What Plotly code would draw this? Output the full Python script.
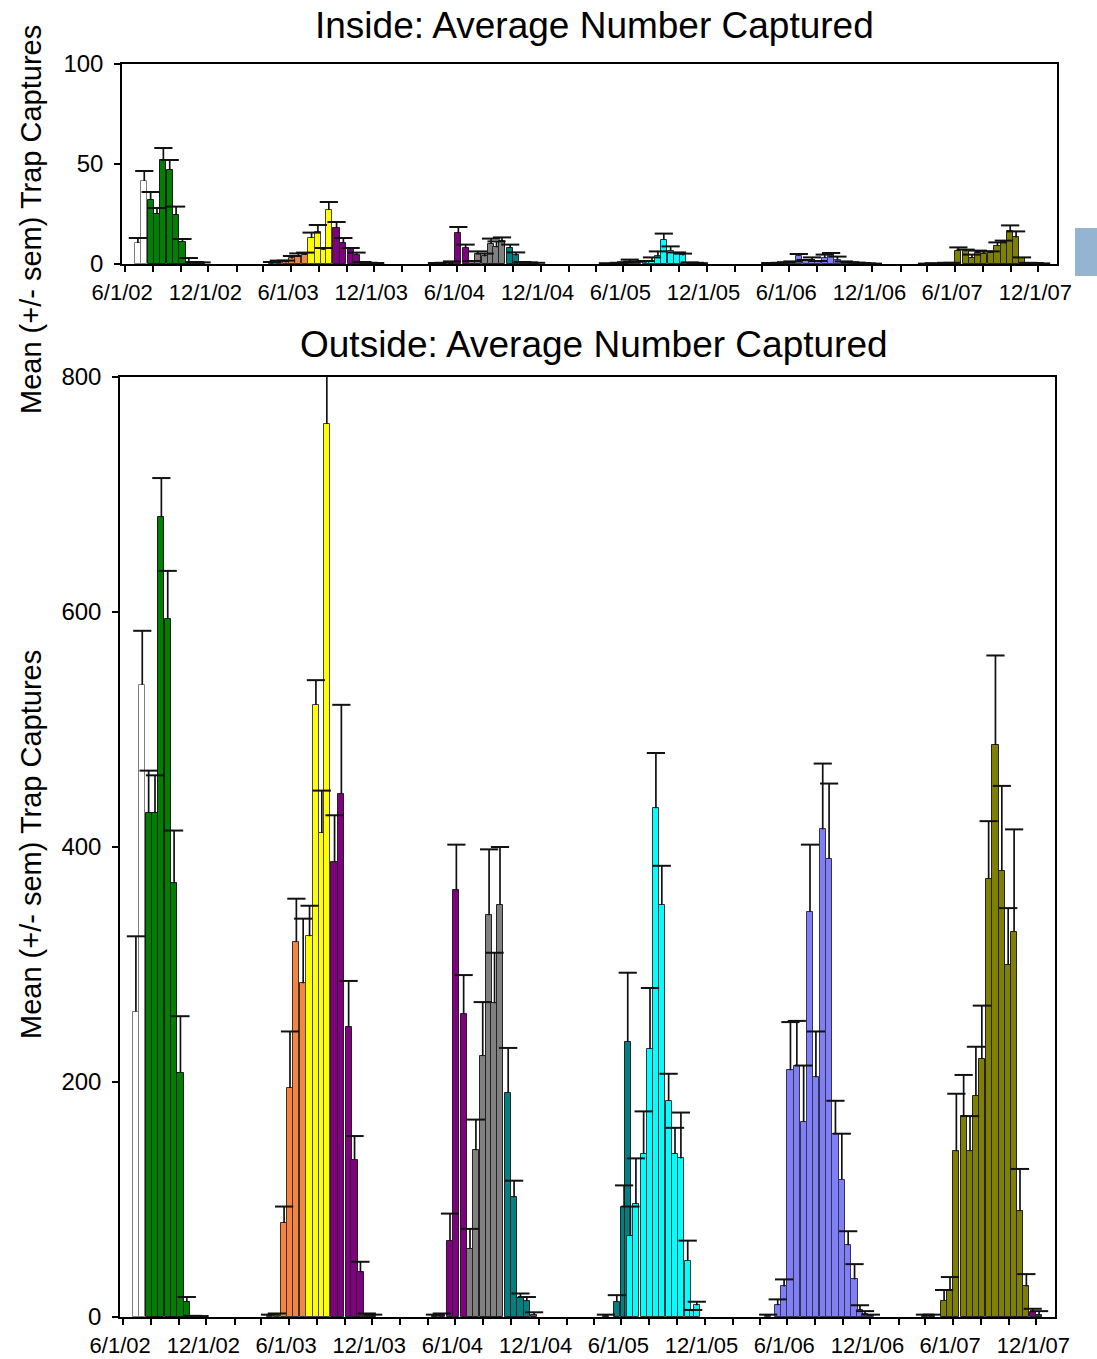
import plotly.graph_objects as go

# ---------------------------------------------------------------
# Trap check dates for each colour group (lure / period)
# ---------------------------------------------------------------
white_dates = ["2002-06-29", "2002-07-13"]
green_dates = ["2002-07-27", "2002-08-10", "2002-08-24", "2002-09-07", "2002-09-21",
               "2002-10-05", "2002-10-19", "2002-11-02", "2002-11-16"]
orange_dates = ["2003-04-20", "2003-05-05", "2003-05-21", "2003-06-03", "2003-06-17", "2003-07-02"]
yellow_dates = ["2003-07-16", "2003-07-30", "2003-08-12", "2003-08-23"]
purple_dates = ["2003-09-09", "2003-09-24", "2003-10-10", "2003-10-23", "2003-11-05",
                "2003-11-19", "2003-12-03",
                "2004-04-17", "2004-05-02", "2004-05-20", "2004-06-03", "2004-06-19",
                "2007-11-23", "2007-12-07"]
gray_dates = ["2004-07-03", "2004-07-16", "2004-07-31", "2004-08-14", "2004-08-26", "2004-09-07"]
teal_dates = ["2004-09-25", "2004-10-08", "2004-10-22", "2004-11-05", "2004-11-21",
              "2005-04-28", "2005-05-22", "2005-06-07", "2005-06-15"]
cyan_dates = ["2005-06-21", "2005-07-03", "2005-07-20", "2005-08-03", "2005-08-16", "2005-08-29",
              "2005-09-13", "2005-09-27", "2005-10-10", "2005-10-25", "2005-11-06", "2005-11-14"]
blue_dates = ["2006-04-20", "2006-05-11", "2006-05-25", "2006-06-08", "2006-06-22", "2006-07-07",
              "2006-07-21", "2006-08-03", "2006-08-18", "2006-09-01", "2006-09-15", "2006-09-29",
              "2006-10-13", "2006-10-27", "2006-11-08", "2006-11-19", "2006-12-02"]
olive_dates = ["2007-03-31", "2007-04-15", "2007-05-12", "2007-05-25", "2007-06-08", "2007-06-24",
               "2007-07-08", "2007-07-21", "2007-08-03", "2007-08-18", "2007-09-02", "2007-09-16",
               "2007-09-30", "2007-10-13", "2007-10-26", "2007-11-09"]

# ---------------------------------------------------------------
# Outside traps: mean captures and s.e.m.
# ---------------------------------------------------------------
white_out = [260, 538]
white_out_sem = [64, 46]
green_out = [429, 429, 681, 594, 369, 208, 13, 0.5, 0.3]
green_out_sem = [36, 32, 33, 41, 45, 48, 4, 0.5, 0.5]
orange_out = [1, 2, 80, 195, 319, 284]
orange_out_sem = [1, 1, 14, 48, 37, 55]
yellow_out = [324, 521, 412, 760]
yellow_out_sem = [26, 21, 36, 80]
purple_out = [387, 445, 247, 134, 38, 2, 1, 1, 2, 65, 363, 258, 4, 2]
purple_out_sem = [40, 76, 39, 20, 9, 1, 1, 1, 1, 23, 39, 33, 3, 3]
gray_out = [58, 142, 222, 342, 267, 351]
gray_out_sem = [17, 26, 46, 56, 43, 49]
teal_out = [191, 102, 16.5, 14, 2, 1, 13, 94, 234]
teal_out_sem = [38, 14, 3.5, 3, 2, 1, 5.6, 18, 59]
cyan_out = [69, 96, 139, 228, 433, 351, 184, 139, 135, 48, 5, 10]
cyan_out_sem = [25, 39, 36, 52, 47, 33, 23, 22, 39, 17, 1, 3]
blue_out = [1, 10, 26, 210, 214, 166, 345, 204, 415, 390, 156, 117, 61, 32, 6, 2.5, 1]
blue_out_sem = [1, 5, 6, 41, 38, 48, 57, 39, 56, 64, 28, 39, 12, 13, 4, 2.5, 1]
olive_out = [1, 1, 14, 23, 141, 171, 141, 188, 220, 373, 487, 380, 300, 328, 90, 26]
olive_out_sem = [1, 1, 9, 11, 49, 35, 30, 42, 45, 49, 76, 72, 48, 87, 36, 10.5]

# ---------------------------------------------------------------
# Inside traps: mean captures and s.e.m.
# ---------------------------------------------------------------
white_in = [10.5, 41.5]
white_in_sem = [2.5, 5]
green_in = [32, 25, 52, 47, 24.5, 11, 1, 0.5, 0.3]
green_in_sem = [4, 3, 6, 5, 4.2, 1.5, 2, 0.5, 0.5]
orange_in = [0.3, 0.5, 0.8, 2.8, 4, 4.5]
orange_in_sem = [0.7, 1.2, 0.9, 1.2, 1.3, 1.2]
yellow_in = [13, 16, 7, 27]
yellow_in_sem = [2.7, 3.5, 1, 4]
purple_in = [18, 10.3, 7.3, 4.5, 0.5, 0.3, 0.2, 0.2, 0.3, 0.8, 15.5, 8, 0.2, 0.1]
purple_in_sem = [3, 2.7, 0.7, 1.2, 0.5, 0.3, 0.3, 0.3, 0.3, 0.5, 3, 1.7, 0.3, 0.2]
gray_in = [1, 5, 3.8, 10, 8.3, 11.3]
gray_in_sem = [0.5, 1.3, 1.4, 2.7, 3, 2]
teal_in = [8, 4.3, 0.5, 0.4, 0.3, 0.2, 0.3, 0.5, 0.6]
teal_in_sem = [1.7, 1.5, 0.5, 0.4, 0.3, 0.2, 0.3, 0.4, 1.6]
cyan_in = [0.5, 0.7, 0.8, 1.7, 3.8, 12.2, 6.7, 5.5, 4.3, 0.5, 0.3, 0.2]
cyan_in_sem = [0.7, 0.5, 0.7, 1.6, 2.5, 3, 2.1, 0.3, 0.9, 0.3, 0.3, 0.2]
blue_in = [0.3, 0.3, 0.5, 0.8, 4.2, 1.5, 2.2, 1, 3, 4.7, 2.2, 0.8, 0.5, 0.4, 0.2, 0.1, 0.1]
blue_in_sem = [0.2, 0.3, 0.4, 0.5, 0.8, 0.5, 1.1, 0.5, 1.7, 0.8, 1.5, 0.5, 0.4, 0.3, 0.3, 0.2, 0.1]
olive_in = [0.1, 0.2, 0.3, 0.3, 6.7, 6.3, 3, 5.5, 5, 5.5, 9.2, 10.8, 16.7, 13.3, 3, 0.3]
olive_in_sem = [0.1, 0.2, 0.3, 0.3, 1.6, 0.9, 1.7, 1.2, 1.3, 0.8, 1.6, 0.9, 2.6, 3, 0.3, 0.3]

# Axis labelling
x_range = ["2002-05-25", "2008-01-11"]
inside_ticks = [0, 50, 100]
outside_ticks = [0, 200, 400, 600, 800]
title_inside = "Inside: Average Number Captured"
title_outside = "Outside: Average Number Captured"
y_title = "Mean (+/- sem) Trap Captures"

# colour group: fill, outline, data
groups = [
    ("#FFFFFF", "#808080", white_dates, white_out, white_out_sem, white_in, white_in_sem),
    ("#008000", "#1a1a1a", green_dates, green_out, green_out_sem, green_in, green_in_sem),
    ("#F4843E", "#333333", orange_dates, orange_out, orange_out_sem, orange_in, orange_in_sem),
    ("#FFFF00", "#444444", yellow_dates, yellow_out, yellow_out_sem, yellow_in, yellow_in_sem),
    ("#800080", "#222222", purple_dates, purple_out, purple_out_sem, purple_in, purple_in_sem),
    ("#808080", "#222222", gray_dates, gray_out, gray_out_sem, gray_in, gray_in_sem),
    ("#008080", "#222222", teal_dates, teal_out, teal_out_sem, teal_in, teal_in_sem),
    ("#00FFFF", "#333333", cyan_dates, cyan_out, cyan_out_sem, cyan_in, cyan_in_sem),
    ("#8080F4", "#333355", blue_dates, blue_out, blue_out_sem, blue_in, blue_in_sem),
    ("#808000", "#222222", olive_dates, olive_out, olive_out_sem, olive_in, olive_in_sem),
]

W, H = 1097, 1359
FONT = "Liberation Sans, Arial, sans-serif"
BAR_MS = 13.5 * 24 * 3600 * 1000  # bar width on the date axis


def fx(px):
    return px / W


def fy(px):
    return 1 - px / H


fig = go.Figure()

cap_x = {"out": [], "in": []}
cap_y = {"out": [], "in": []}

for fill, edge, dates, out_m, out_s, in_m, in_s in groups:
    for key, means, sems, xa, ya in (("out", out_m, out_s, "x", "y"),
                                     ("in", in_m, in_s, "x2", "y2")):
        fig.add_trace(go.Bar(
            x=dates, y=means, width=BAR_MS,
            marker=dict(color=fill, line=dict(color=edge, width=1)),
            error_y=dict(type="data", array=sems, arrayminus=[0] * len(sems),
                         symmetric=False, width=0, thickness=1.7, color="#111111"),
            xaxis=xa, yaxis=ya, showlegend=False, hoverinfo="x+y",
        ))
        cap_x[key].extend(dates)
        cap_y[key].extend([m + s for m, s in zip(means, sems)])

# horizontal caps of the error bars
for key, xa, ya in (("out", "x", "y"), ("in", "x2", "y2")):
    fig.add_trace(go.Scatter(
        x=cap_x[key], y=cap_y[key], mode="markers",
        marker=dict(symbol="line-ew", size=13, color="#111111",
                    line=dict(width=2, color="#111111")),
        xaxis=xa, yaxis=ya, showlegend=False, hoverinfo="skip",
    ))

axis_common = dict(
    showline=True, linecolor="black", linewidth=1.5, mirror=True,
    ticks="outside", ticklen=6, tickwidth=1.5, tickcolor="black",
    showgrid=False, zeroline=False, automargin=False,
    tickfont=dict(family=FONT, size=22, color="black"),
)

yfont = dict(family=FONT, size=24, color="black")

xaxis_common = dict(
    axis_common, type="date", range=x_range,
    tick0="2002-06-01", dtick="M6", tickformat="%-m/%-d/%y",
    minor=dict(dtick="M2", tick0="2002-06-01", ticks="outside", ticklen=6,
               tickwidth=1.5, tickcolor="black", showgrid=False),
    ticklabelstandoff=2, ticklabelshift=-3,
)

fig.update_layout(
    width=W, height=H,
    margin=dict(l=0, r=0, t=0, b=0, autoexpand=False),
    paper_bgcolor="white", plot_bgcolor="white",
    barmode="overlay", bargap=0,
    font=dict(family=FONT, color="black"),
    xaxis=dict(xaxis_common, domain=[fx(120), fx(1055)], anchor="y"),
    yaxis=dict(axis_common, domain=[fy(1317), fy(377)], anchor="x",
               range=[0, 800], tickvals=outside_ticks, ticklabelstandoff=6,
               tickfont=yfont),
    xaxis2=dict(xaxis_common, domain=[fx(122), fx(1057)], anchor="y2"),
    yaxis2=dict(axis_common, domain=[fy(264), fy(64)], anchor="x2",
                range=[0, 100], tickvals=inside_ticks, ticklabelstandoff=6,
                tickfont=yfont),
    shapes=[dict(type="rect", xref="paper", yref="paper",
                 x0=fx(1075), x1=1.0, y0=fy(276), y1=fy(228),
                 fillcolor="#94B4D2", line=dict(width=0))],
    annotations=[
        dict(text=title_inside, xref="paper", yref="paper", x=fx(594), y=fy(25),
             xanchor="center", yanchor="middle", showarrow=False,
             font=dict(family=FONT, size=37, color="black")),
        dict(text=title_outside, xref="paper", yref="paper", x=fx(594), y=fy(345),
             xanchor="center", yanchor="middle", showarrow=False,
             font=dict(family=FONT, size=37, color="black")),
        dict(text=y_title, xref="paper", yref="paper", x=fx(31), y=fy(220),
             xanchor="center", yanchor="middle", textangle=-90, showarrow=False,
             font=dict(family=FONT, size=29, color="black")),
        dict(text=y_title, xref="paper", yref="paper", x=fx(31), y=fy(845),
             xanchor="center", yanchor="middle", textangle=-90, showarrow=False,
             font=dict(family=FONT, size=29, color="black")),
    ],
)

fig.write_html("out.html")
